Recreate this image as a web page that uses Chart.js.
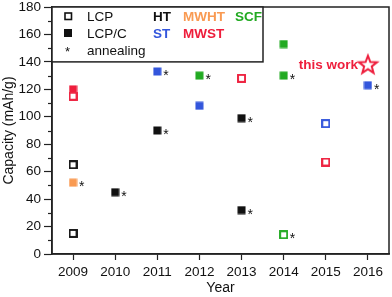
<!DOCTYPE html>
<html>
<head>
<meta charset="utf-8">
<script src="https://cdn.jsdelivr.net/npm/chart.js@4"></script>
<style>
  html, body { margin: 0; padding: 0; background: #fff; overflow: hidden; }
  canvas { display: block; }
</style>
</head>
<body>
<canvas id="chart" width="392" height="297"></canvas>
<script>
// valores (ano, capacidade em mAh/g, 1 = recozimento "*")
const htOpenYears = [2009, 2009];
const htOpenCap = [65, 15];
const htOpenAnneal = [0, 0];

const htYears = [2010, 2011, 2013, 2013];
const htCap = [45, 90, 99, 32];
const htAnneal = [1, 1, 1, 1];

const mwhtYears = [2009];
const mwhtCap = [52];
const mwhtAnneal = [1];

const scfYears = [2012, 2014, 2014];
const scfCap = [130, 153, 130];
const scfAnneal = [1, 0, 1];

const scfOpenYears = [2014];
const scfOpenCap = [14];
const scfOpenAnneal = [1];

const stYears = [2011, 2012, 2016];
const stCap = [133, 108, 123];
const stAnneal = [1, 0, 1];

const stOpenYears = [2015];
const stOpenCap = [95];
const stOpenAnneal = [0];

const mwstYears = [2009];
const mwstCap = [120];
const mwstAnneal = [0];

const mwstOpenYears = [2009, 2013, 2015];
const mwstOpenCap = [115, 128, 67];
const mwstOpenAnneal = [0, 0, 0];

const thisWorkYears = [2016];
const thisWorkCap = [138];

const yearTicks = [2009, 2010, 2011, 2012, 2013, 2014, 2015, 2016];

const FONT = "'Liberation Sans', Arial, sans-serif";
const BLACK = "#111111";
const ORANGE = "#F99A52";
const GREEN = "#22AA22";
const BLUE = "#3356DC";
const RED = "#EE1E3C";

function pts(xs, ys) {
  return xs.map((x, i) => ({ x: x, y: ys[i] }));
}

// marcadores como imagens (raio pequeno para não criar margem extra no layout)
function squareImage(color, open) {
  const c = document.createElement("canvas");
  c.width = 9; c.height = 9;
  const g = c.getContext("2d");
  if (open) {
    g.fillStyle = "#fff";
    g.fillRect(0, 0, 9, 9);
    g.strokeStyle = color;
    g.lineWidth = 1.9;
    g.strokeRect(1, 1, 7, 7);
  } else {
    g.fillStyle = color;
    g.fillRect(0.5, 0.5, 8, 8);
  }
  return c;
}

// estrela vazada para "this work"
function starImage(color) {
  const c = document.createElement("canvas");
  c.width = 24; c.height = 24;
  const g = c.getContext("2d");
  g.strokeStyle = color;
  g.lineWidth = 2;
  g.beginPath();
  for (let i = 0; i < 10; i++) {
    const r = i % 2 === 0 ? 9.5 : 4;
    const a = -Math.PI / 2 + i * Math.PI / 5;
    const px = 12 + r * Math.cos(a), py = 12.5 + r * Math.sin(a);
    if (i === 0) g.moveTo(px, py); else g.lineTo(px, py);
  }
  g.closePath();
  g.stroke();
  return c;
}

function series(label, xs, ys, color, open, anneal) {
  return {
    label: label, data: pts(xs, ys), anneal: anneal,
    pointStyle: squareImage(color, open),
    pointRadius: 1, pointHoverRadius: 1, pointBorderWidth: 0
  };
}

const datasets = [
  series("MWST open", mwstOpenYears, mwstOpenCap, RED, true, mwstOpenAnneal),
  series("MWST", mwstYears, mwstCap, RED, false, mwstAnneal),
  series("LCP", htOpenYears, htOpenCap, BLACK, true, htOpenAnneal),
  series("HT", htYears, htCap, BLACK, false, htAnneal),
  series("MWHT", mwhtYears, mwhtCap, ORANGE, false, mwhtAnneal),
  series("SCF", scfYears, scfCap, GREEN, false, scfAnneal),
  series("SCF open", scfOpenYears, scfOpenCap, GREEN, true, scfOpenAnneal),
  series("ST", stYears, stCap, BLUE, false, stAnneal),
  series("ST open", stOpenYears, stOpenCap, BLUE, true, stOpenAnneal),
  {
    label: "this work", data: pts(thisWorkYears, thisWorkCap), anneal: [0],
    pointStyle: starImage(RED), pointRadius: 1, pointHoverRadius: 1, pointBorderWidth: 0
  }
];

// moldura, ticks menores, asteriscos, legenda e texto "this work"
const extras = {
  id: "extras",
  afterDraw(chart) {
    const ctx = chart.ctx;
    const a = chart.chartArea;
    const ys = chart.scales.y;
    ctx.save();

    // moldura superior e direita
    ctx.strokeStyle = "#222";
    ctx.lineWidth = 1.5;
    ctx.strokeRect(a.left, a.top, a.right - a.left, a.bottom - a.top);

    // ticks menores do eixo y
    ctx.lineWidth = 1.2;
    for (let v = 10; v < 180; v += 20) {
      const py = Math.round(ys.getPixelForValue(v)) + 0.5;
      ctx.beginPath();
      ctx.moveTo(a.left - 4, py);
      ctx.lineTo(a.left, py);
      ctx.stroke();
    }

    // asteriscos de recozimento
    ctx.fillStyle = "#111";
    ctx.font = "14px " + FONT;
    ctx.textAlign = "left";
    ctx.textBaseline = "alphabetic";
    chart.data.datasets.forEach((ds, di) => {
      const meta = chart.getDatasetMeta(di);
      meta.data.forEach((el, i) => {
        if (ds.anneal && ds.anneal[i]) ctx.fillText("*", el.x + 6, el.y + 8.5);
      });
    });

    // "this work"
    const tw = chart.getDatasetMeta(datasets.length - 1).data[0];
    ctx.fillStyle = RED;
    ctx.font = "bold 13.5px " + FONT;
    ctx.textAlign = "right";
    ctx.textBaseline = "middle";
    ctx.fillText("this work", tw.x - 10, tw.y + 1);

    // legenda
    const lx = a.left, ly = a.top;
    const lb = ys.getPixelForValue(140);
    ctx.fillStyle = "#fff";
    ctx.fillRect(lx, ly, 211, lb - ly);
    ctx.strokeStyle = "#222";
    ctx.lineWidth = 1.5;
    ctx.strokeRect(lx, ly, 211, lb - ly);

    ctx.lineWidth = 1.6;
    ctx.strokeStyle = "#111";
    ctx.strokeRect(lx + 13, ly + 6, 6.5, 6.5);
    ctx.fillStyle = "#111";
    ctx.fillRect(lx + 12, ly + 22, 8, 8);
    ctx.font = "13px " + FONT;
    ctx.textAlign = "left";
    ctx.textBaseline = "alphabetic";
    ctx.fillText("*", lx + 13, ly + 49);

    ctx.textBaseline = "middle";
    ctx.font = "13.5px " + FONT;
    ctx.fillText("LCP", lx + 35, ly + 10);
    ctx.fillText("LCP/C", lx + 35, ly + 27);
    ctx.fillText("annealing", lx + 35, ly + 44);

    ctx.font = "bold 13.5px " + FONT;
    const items = [
      ["HT", BLACK, 101, 10], ["MWHT", ORANGE, 131, 10], ["SCF", GREEN, 183, 10],
      ["ST", BLUE, 101, 27], ["MWST", RED, 131, 27]
    ];
    items.forEach(([t, c, dx, dy]) => {
      ctx.fillStyle = c;
      ctx.fillText(t, lx + dx, ly + dy);
    });

    ctx.restore();
  }
};

new Chart(document.getElementById("chart").getContext("2d"), {
  type: "scatter",
  data: { datasets: datasets },
  options: {
    responsive: false,
    animation: false,
    layout: { padding: { top: 7, right: 3, left: 0, bottom: 0 } },
    plugins: {
      legend: { display: false },
      tooltip: { enabled: false }
    },
    scales: {
      x: {
        type: "linear",
        min: 2008.5,
        max: 2016.5,
        afterBuildTicks(scale) {
          scale.ticks = yearTicks.map(v => ({ value: v }));
        },
        afterFit(scale) {
          scale.height = 43;
          scale.paddingLeft = 0;
          scale.paddingRight = 0;
        },
        ticks: {
          callback: v => String(v),
          color: "#111",
          font: { family: FONT, size: 13.5 },
          padding: 4,
          maxRotation: 0
        },
        grid: { drawOnChartArea: false, tickLength: 6, tickWidth: 1.2, tickColor: "#222" },
        border: { display: true, color: "#222", width: 1.5 },
        title: {
          display: true, text: "Year", color: "#111",
          font: { family: FONT, size: 14 }, padding: 0
        }
      },
      y: {
        min: 0,
        max: 180,
        afterFit(scale) {
          scale.width = 52;
          scale.paddingTop = 0;
          scale.paddingBottom = 0;
        },
        ticks: {
          stepSize: 20,
          color: "#111",
          font: { family: FONT, size: 13.5 },
          padding: 3
        },
        grid: { drawOnChartArea: false, tickLength: 8, tickWidth: 1.2, tickColor: "#222" },
        border: { display: true, color: "#222", width: 1.5 },
        title: {
          display: true, text: "Capacity (mAh/g)", color: "#111",
          font: { family: FONT, size: 14 }, padding: { top: 1, bottom: 0 }
        }
      }
    }
  },
  plugins: [extras]
});
</script>
</body>
</html>
